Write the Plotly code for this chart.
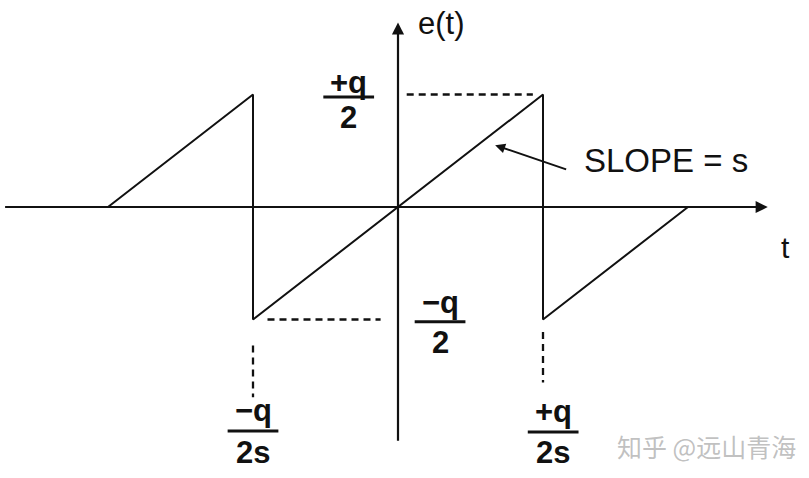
import plotly.graph_objects as go

# Sawtooth quantisation error e(t); t in units of q/(2s), e in units of q/2
saw_t = [-2, -1, -1, 1, 1, 2]
saw_e = [0, 1, -1, 1, -1, 0]

# dashed guide lines (t, e)
guide_top_t = [0.06, 0.93]
guide_top_e = [1, 1]
guide_bot_t = [-0.9, -0.12]
guide_bot_e = [-1, -1]
guide_left_t = [-1, -1]
guide_left_e = [-1.23, -1.69]
guide_right_t = [1, 1]
guide_right_e = [-1.11, -1.56]

# axis extents
t_axis = [-2.72, 2.55]
e_axis = [-2.09, 1.64]

FONT = "Liberation Sans, Arial, sans-serif"
BLACK = "#111111"

fig = go.Figure()

fig.add_trace(go.Scatter(x=saw_t, y=saw_e, mode="lines",
                         line=dict(color=BLACK, width=2), hoverinfo="skip"))
for gt, ge in [(guide_top_t, guide_top_e), (guide_bot_t, guide_bot_e),
               (guide_left_t, guide_left_e), (guide_right_t, guide_right_e)]:
    fig.add_trace(go.Scatter(x=gt, y=ge, mode="lines",
                             line=dict(color=BLACK, width=2.3, dash="7px,5px"),
                             hoverinfo="skip"))

anns = []
# axes with arrowheads
anns.append(dict(x=t_axis[1], y=0, ax=t_axis[0], ay=0, xref="x", yref="y",
                 axref="x", ayref="y", text="", showarrow=True, arrowhead=2,
                 arrowsize=1.1, arrowwidth=2.2, arrowcolor=BLACK, standoff=0))
anns.append(dict(x=0, y=e_axis[1], ax=0, ay=e_axis[0], xref="x", yref="y",
                 axref="x", ayref="y", text="", showarrow=True, arrowhead=2,
                 arrowsize=1.1, arrowwidth=2.2, arrowcolor=BLACK, standoff=0))
# slope pointer
anns.append(dict(x=0.67, y=0.55, ax=1.17, ay=0.33, xref="x", yref="y",
                 axref="x", ayref="y", text="", showarrow=True, arrowhead=2,
                 arrowsize=1, arrowwidth=2, arrowcolor=BLACK, standoff=0))


def label(x, y, txt, size=30, bold=False):
    t = f"<b>{txt}</b>" if bold else txt
    anns.append(dict(x=x, y=y, xref="x", yref="y", text=t, showarrow=False,
                     xanchor="center", yanchor="middle",
                     font=dict(family=FONT, size=size, color=BLACK)))


label(0.303, 1.63, "e(t)", 31)
label(2.67, -0.36, "t", 30)
label(1.85, 0.415, "SLOPE = s", 33)

# fractions: (center t, numerator e, bar e, denominator e, numerator, denom)
fracs = [
    (-0.34, 1.11, 0.978, 0.8, "+q", "2"),
    (0.29, -0.845, -1.02, -1.2, "\u2212q", "2"),
    (-1.0, -1.813, -1.991, -2.18, "\u2212q", "2s"),
    (1.07, -1.822, -2.0, -2.18, "+q", "2s"),
]
shapes = []
for ct, ne, be, de, num, den in fracs:
    label(ct, ne, num, 31, True)
    label(ct, de, den, 31, True)
    shapes.append(dict(type="line", xref="x", yref="y", x0=ct - 0.175, x1=ct + 0.175,
                       y0=be, y1=be, line=dict(color=BLACK, width=3)))

anns.append(dict(x=2.13, y=-2.12, xref="x", yref="y", text="知乎 @远山青海",
                 showarrow=False, font=dict(family="Noto Sans CJK SC", size=25,
                                            color="rgba(165,165,165,0.7)")))

fig.update_layout(
    width=809, height=478, autosize=False,
    margin=dict(l=0, r=0, t=0, b=0),
    paper_bgcolor="white", plot_bgcolor="white",
    showlegend=False,
    xaxis=dict(range=[-398 / 145, 411 / 145], visible=False, fixedrange=True),
    yaxis=dict(range=[-271 / 112.5, 207 / 112.5], visible=False, fixedrange=True),
    annotations=anns, shapes=shapes,
)

fig.write_html("out.html", config={"displayModeBar": False, "staticPlot": True},
               post_script="document.body.style.margin='0px';document.body.style.overflow='hidden';")
